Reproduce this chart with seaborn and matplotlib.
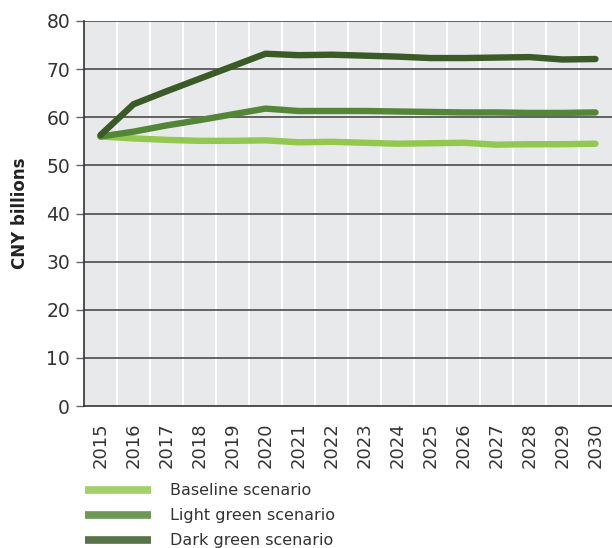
import numpy as np
import pandas as pd
import matplotlib
matplotlib.use("Agg")
import matplotlib.pyplot as plt
import seaborn as sns
from matplotlib.lines import Line2D

years = list(range(2015, 2031))
baseline = [56.0, 55.6, 55.3, 55.1, 55.1, 55.2, 54.8, 54.9, 54.7, 54.5, 54.6, 54.7, 54.3, 54.4, 54.4, 54.5]
light_green = [56.0, 57.0, 58.3, 59.4, 60.6, 61.8, 61.3, 61.3, 61.3, 61.2, 61.1, 61.0, 61.0, 60.9, 60.9, 61.0]
dark_green = [56.3, 62.7, 65.4, 68.0, 70.6, 73.2, 72.9, 73.0, 72.8, 72.6, 72.3, 72.3, 72.4, 72.5, 72.0, 72.1]
series_names = ["Baseline scenario", "Light green scenario", "Dark green scenario"]
colors = ["#92c850", "#548638", "#3a5a28"]
y_ticks = [0, 10, 20, 30, 40, 50, 60, 70, 80]

df = pd.DataFrame({
    "year": years * 3,
    "value": baseline + light_green + dark_green,
    "scenario": [series_names[0]] * 16 + [series_names[1]] * 16 + [series_names[2]] * 16,
})

sns.set_theme(style="white")
plt.rcParams["font.family"] = ["DejaVu Sans"]

fig = plt.figure(figsize=(6.12, 5.48), dpi=100)
ax = fig.add_axes([84 / 612, 1 - 406 / 548, 1 - 84 / 612, (406 - 21) / 548])
ax.set_facecolor("#e8e9eb")

sns.lineplot(data=df, x="year", y="value", hue="scenario", palette=colors,
             hue_order=series_names, linewidth=4.6, ax=ax, legend=False,
             zorder=3)

ax.set_xlim(2014.5, 2030.5)
ax.set_ylim(0, 80)
ax.set_yticks(y_ticks)
ax.set_yticklabels([str(v) for v in y_ticks], fontsize=13.5, color="#333333")
ax.set_xticks(years)
ax.set_xticklabels([str(y) for y in years], rotation=90, fontsize=13, color="#333333")
ax.set_xticks([y - 0.5 for y in years] + [2030.5], minor=True)
ax.tick_params(axis="x", which="major", length=0, pad=12)
ax.tick_params(axis="x", which="minor", length=54, width=1, color="#444444", direction="out")
ax.tick_params(axis="y", which="major", length=6, width=1, color="#666666", pad=4, left=True)

for v in y_ticks[1:]:
    ax.axhline(v, color="#4a4a4a", linewidth=1.2, zorder=1)
for y in years[1:]:
    ax.axvline(y - 0.5, color="white", linewidth=1.4, zorder=0.5)

for s in ["top", "right"]:
    ax.spines[s].set_visible(False)
ax.spines["left"].set_color("#333333")
ax.spines["left"].set_linewidth(1.2)
ax.spines["bottom"].set_color("#333333")
ax.spines["bottom"].set_linewidth(1.2)

ax.set_xlabel("")
ax.set_ylabel("CNY billions", fontsize=12, fontweight="bold", color="#222222")
ax.yaxis.set_label_coords(-0.104, 0.5)

handles = [Line2D([0], [0], color=c, linewidth=5.5, alpha=0.85, solid_capstyle="butt") for c in colors]
fig.legend(handles, series_names, loc="upper left",
           bbox_to_anchor=(71 / 612, 1 - 469 / 548), frameon=False,
           fontsize=11.5, handlelength=4.1, handletextpad=1.2, labelspacing=0.62,
           labelcolor="#333333")

fig.savefig("out.png", dpi=100)
